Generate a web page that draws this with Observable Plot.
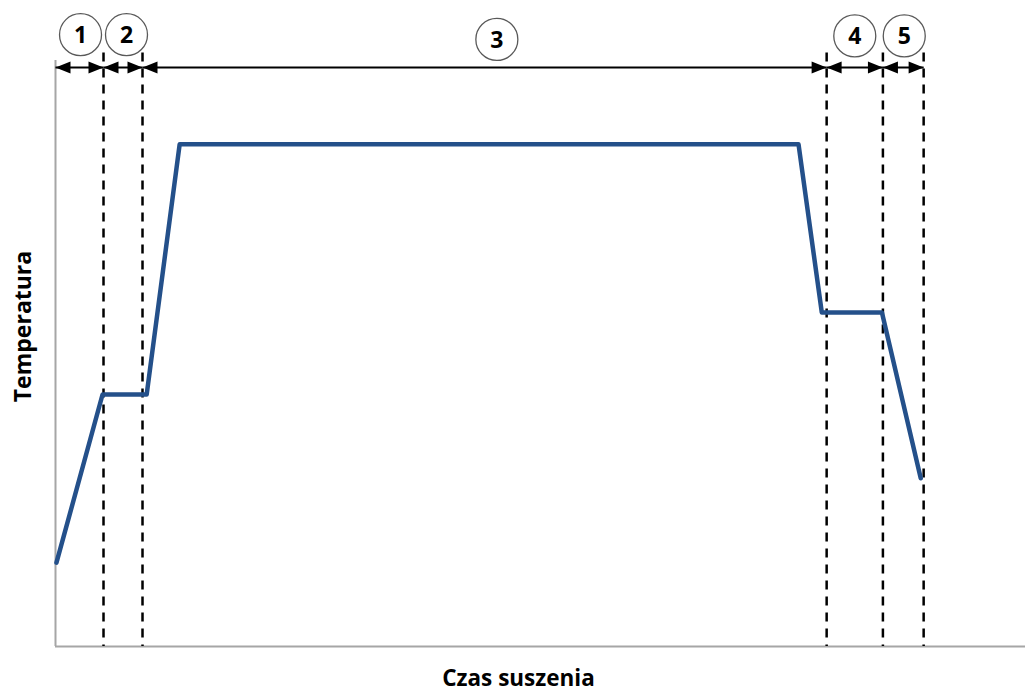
<!DOCTYPE html>
<html>
<head>
<meta charset="utf-8">
<script src="https://cdn.jsdelivr.net/npm/d3@7"></script>
<script src="https://cdn.jsdelivr.net/npm/@observablehq/plot@0.6"></script>
<style>
  html, body { margin: 0; padding: 0; background: #fff; }
  #chart svg { display: block; }
</style>
</head>
<body>
<div id="chart"></div>
<script>
// Drying profile (arbitrary units)
const timePts = [0.1, 4.85, 9.4, 12.8, 76.6, 79.0, 85.2, 89.2];
const tempPts = [14.3, 43.0, 43.0, 85.7, 85.7, 57.0, 57.0, 28.7];
// Phase boundaries (dashed lines) and phase labels
const phaseBounds = [0, 4.95, 8.97, 79.5, 85.3, 89.5];
const phaseLabels = ["1", "2", "3", "4", "5"];
const phaseLabelX = [2.58, 7.32, 45.5, 82.4, 87.5];
const phaseLabelY = [104.4, 104.4, 103.6, 104.2, 104.2];
const xLabel = "Czas suszenia";
const yLabel = "Temperatura";

const profile = timePts.map((t, i) => ({t, T: tempPts[i]}));
const dashed = phaseBounds.slice(1);
const segs = phaseLabels.map((p, i) => ({x1: phaseBounds[i], x2: phaseBounds[i + 1], label: p, lx: phaseLabelX[i], ly: phaseLabelY[i]}));
const arrowY = 98.8;

const headRight = {draw(ctx) { ctx.moveTo(0, 0); ctx.lineTo(-15, -6); ctx.lineTo(-15, 6); ctx.closePath(); }};
const headLeft = {draw(ctx) { ctx.moveTo(0, 0); ctx.lineTo(15, -6); ctx.lineTo(15, 6); ctx.closePath(); }};

const font = "'Open Sans', sans-serif";

const chart = Plot.plot({
  width: 1025,
  height: 693,
  marginLeft: 55,
  marginRight: 0,
  marginTop: 60,
  marginBottom: 47,
  x: {domain: [0, 100], axis: null},
  y: {domain: [0, 100], axis: null},
  style: {fontFamily: font, background: "#fff"},
  marks: [
    // axes
    Plot.ruleX([0], {y1: 0, y2: 100, stroke: "#a6a6a6", strokeWidth: 2}),
    Plot.ruleY([0], {stroke: "#a6a6a6", strokeWidth: 2}),
    // phase boundaries
    Plot.ruleX(dashed, {y1: 101.3, y2: 0, stroke: "#000", strokeWidth: 2.5, strokeDasharray: "9,7"}),
    // arrows
    Plot.link(segs, {x1: "x1", x2: "x2", y1: arrowY, y2: arrowY, stroke: "#000", strokeWidth: 2}),
    Plot.dot(segs, {x: "x2", y: arrowY, symbol: headRight, fill: "#000", stroke: null}),
    Plot.dot(segs, {x: "x1", y: arrowY, symbol: headLeft, fill: "#000", stroke: null}),
    // circled phase numbers
    Plot.dot(segs, {x: "lx", y: "ly", r: 21, fill: "#fff", stroke: "#595959", strokeWidth: 1.3}),
    Plot.text(segs, {x: "lx", y: "ly", text: "label", fontSize: 23, fontWeight: "bold", fill: "#000", lineAnchor: "middle", dy: 1}),
    // temperature profile
    Plot.line(profile, {x: "t", y: "T", stroke: "#24508a", strokeWidth: 4.5, strokeLinejoin: "round"}),
    // axis labels
    Plot.text([yLabel], {frameAnchor: "left", textAnchor: "middle", lineAnchor: "middle", dx: -32, dy: -27, rotate: -90, fontSize: 23, fontWeight: "bold", fill: "#000"}),
    Plot.text([xLabel], {frameAnchor: "bottom", textAnchor: "middle", lineAnchor: "middle", dx: -22, dy: 32, fontSize: 22.5, fontWeight: "bold", fill: "#000"})
  ]
});
document.getElementById("chart").append(chart);
</script>
</body>
</html>
